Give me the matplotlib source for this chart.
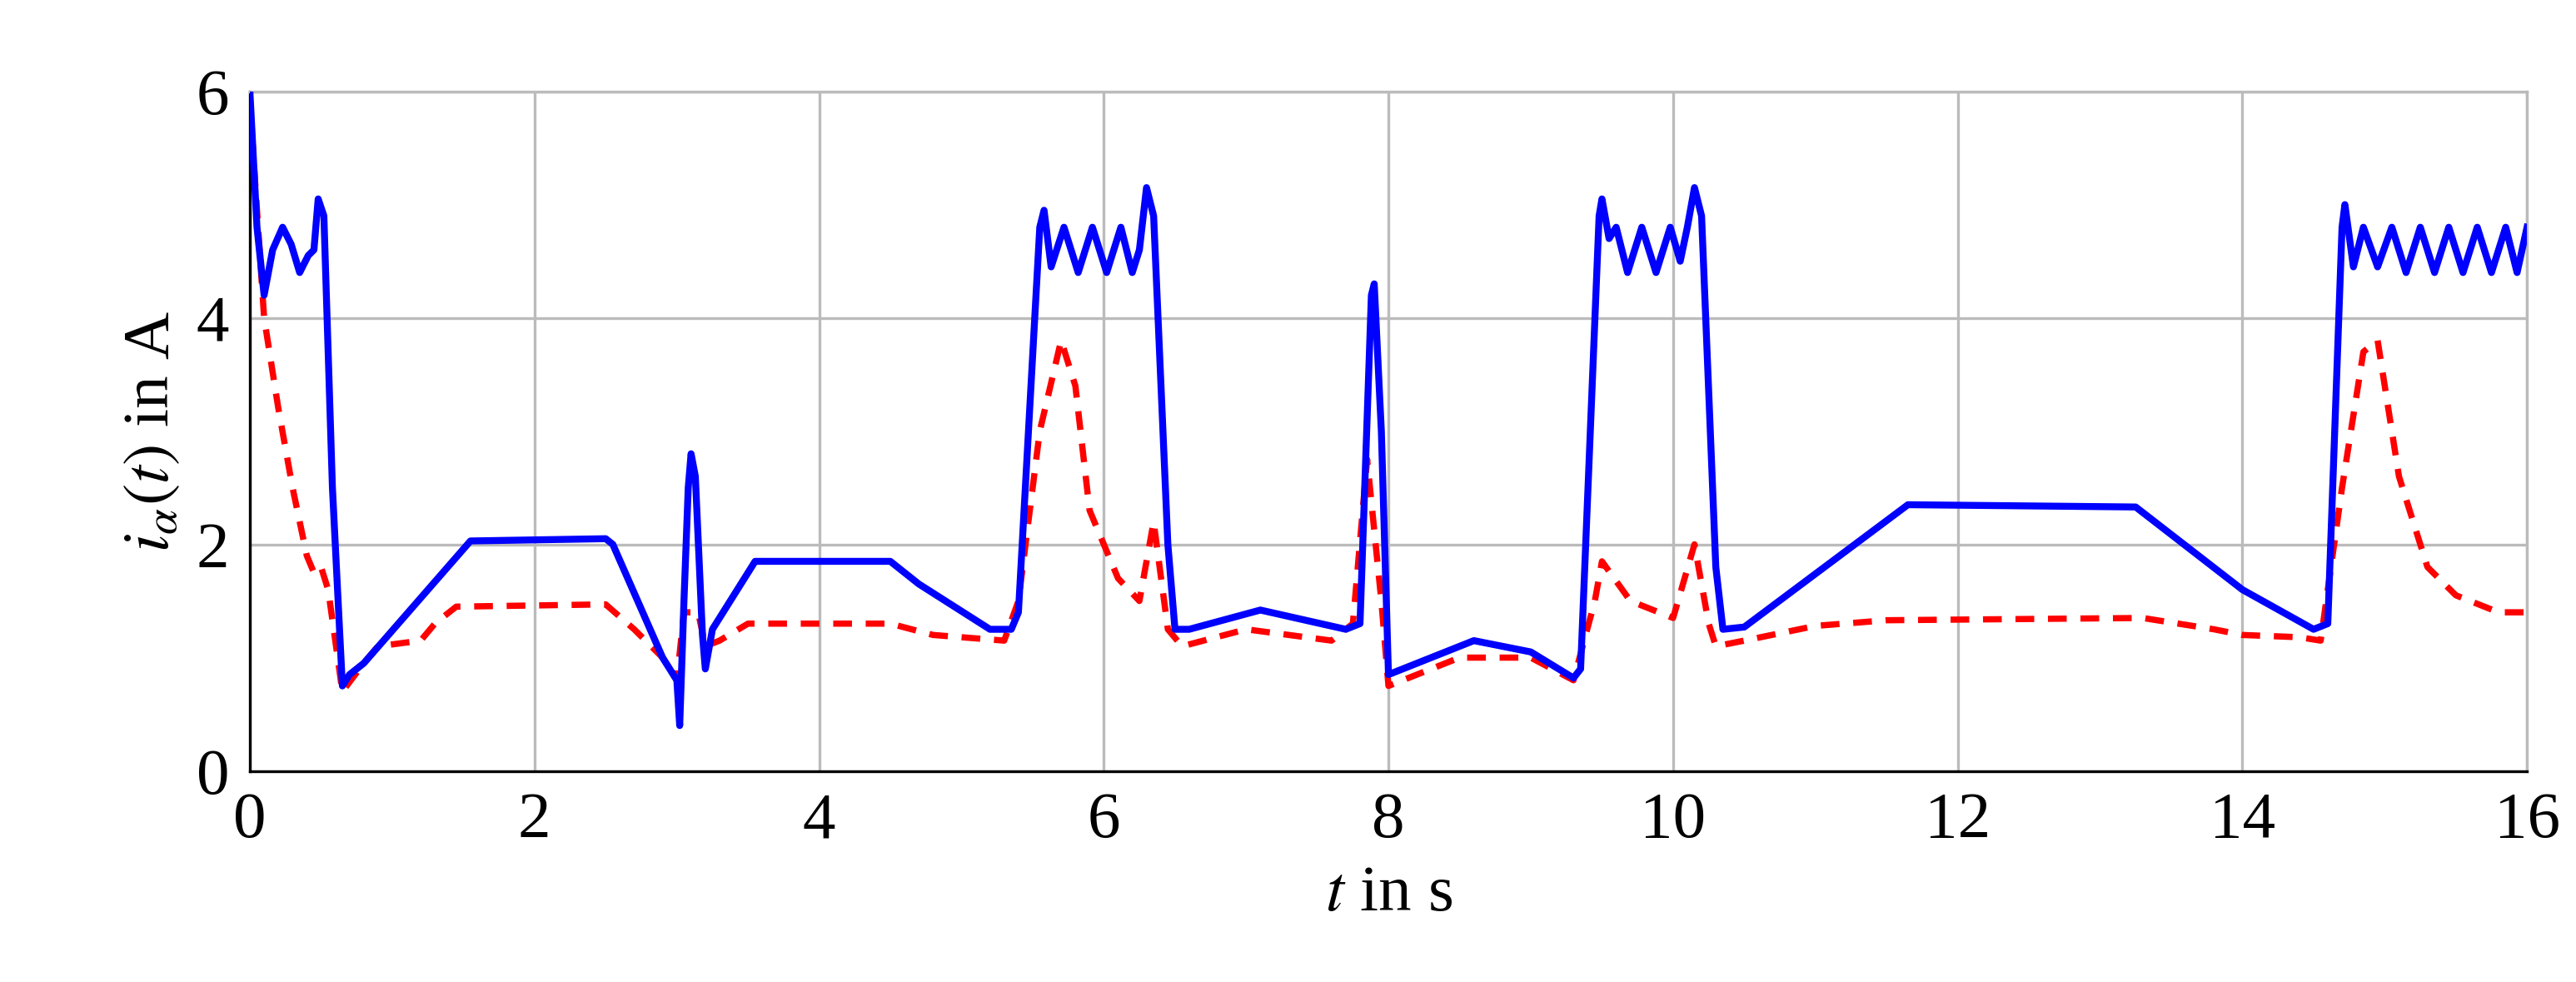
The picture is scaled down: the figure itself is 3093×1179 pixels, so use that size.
import numpy as np
import matplotlib.pyplot as plt

plt.rcParams["font.family"] = ["Liberation Serif", "DejaVu Serif"]
plt.rcParams["mathtext.fontset"] = "stix"

# blue: reference current (t in s, value in A)
blue_t = [0, 0.05, 0.1, 0.16, 0.23, 0.29, 0.35, 0.41, 0.45, 0.48, 0.52, 0.58, 0.65, 0.7, 0.8,
          1.55, 2.5, 2.55, 2.9, 3.0, 3.02, 3.05, 3.08, 3.1, 3.13, 3.18, 3.2, 3.25, 3.55, 4.5,
          4.7, 5.2, 5.35, 5.4, 5.55, 5.58, 5.63, 5.72, 5.82, 5.92, 6.02, 6.12, 6.2, 6.25, 6.3,
          6.35, 6.45, 6.5, 6.6, 7.1, 7.7, 7.8, 7.88, 7.9, 7.95, 8.0, 8.1, 8.6, 9.0, 9.3, 9.35,
          9.48, 9.5, 9.55, 9.6, 9.68, 9.78, 9.88, 9.98, 10.05, 10.1, 10.15, 10.2, 10.3, 10.35,
          10.5, 11.65, 13.25, 14.0, 14.5, 14.6, 14.7, 14.72, 14.78, 14.85, 14.95, 15.05, 15.15,
          15.25, 15.35, 15.45, 15.55, 15.65, 15.75, 15.85, 15.93, 16.0]
blue_v = [6.0, 4.8, 4.2, 4.6, 4.8, 4.65, 4.4, 4.55, 4.6, 5.05, 4.9, 2.5, 0.75, 0.85, 0.95,
          2.03, 2.05, 2.0, 1.0, 0.8, 0.4, 1.5, 2.5, 2.8, 2.6, 1.2, 0.9, 1.25, 1.85, 1.85,
          1.65, 1.25, 1.25, 1.4, 4.8, 4.95, 4.45, 4.8, 4.4, 4.8, 4.4, 4.8, 4.4, 4.6, 5.15,
          4.9, 2.0, 1.25, 1.25, 1.42, 1.25, 1.3, 4.2, 4.3, 3.0, 0.85, 0.9, 1.15, 1.05, 0.82, 0.9,
          4.9, 5.05, 4.7, 4.8, 4.4, 4.8, 4.4, 4.8, 4.5, 4.8, 5.15, 4.9, 1.8, 1.25,
          1.27, 2.35, 2.33, 1.6, 1.25, 1.3, 4.8, 5.0, 4.45, 4.8, 4.45, 4.8, 4.4,
          4.8, 4.4, 4.8, 4.4, 4.8, 4.4, 4.8, 4.4, 4.8]

# red dashed: measured current
red_t = [0, 0.1, 0.2, 0.3, 0.4, 0.45, 0.5, 0.55, 0.65, 0.8, 0.9, 1.2, 1.3, 1.45, 2.5, 2.7,
         2.9, 3.0, 3.05, 3.15, 3.2, 3.3, 3.5, 4.5, 4.8, 5.3, 5.4, 5.55, 5.7, 5.8, 5.9, 6.1,
         6.25, 6.35, 6.45, 6.55, 7.0, 7.6, 7.75, 7.85, 7.95, 8.0, 8.1, 8.5, 9.0, 9.3, 9.45,
         9.5, 9.7, 10.0, 10.15, 10.25, 10.3, 10.5, 11.0, 11.5, 13.3, 13.8, 14.0, 14.4, 14.55,
         14.7, 14.85, 14.95, 15.1, 15.3, 15.5, 15.8, 16.0]
red_v = [5.9, 4.0, 3.2, 2.5, 1.9, 1.75, 1.8, 1.6, 0.7, 0.95, 1.1, 1.15, 1.3, 1.45, 1.47, 1.25,
         1.0, 0.8, 1.4, 1.4, 1.1, 1.15, 1.3, 1.3, 1.2, 1.15, 1.5, 3.0, 3.8, 3.4, 2.3, 1.7,
         1.5, 2.2, 1.25, 1.1, 1.25, 1.15, 1.3, 2.75, 1.5, 0.75, 0.8, 1.0, 1.0, 0.8, 1.5,
         1.85, 1.5, 1.35, 2.0, 1.3, 1.1, 1.15, 1.28, 1.33, 1.35, 1.25, 1.2, 1.18, 1.15,
         2.5, 3.7, 3.8, 2.6, 1.8, 1.55, 1.4, 1.4]

fig = plt.figure(figsize=(10.31, 3.93), dpi=300)
ax = fig.add_axes([0.097, 0.215, 0.884, 0.692])

ax.plot(blue_t, blue_v, color="blue", lw=2.0, zorder=3)
ax.plot(red_t, red_v, color="red", lw=1.8, ls=(0, (3, 2.2)), zorder=2)

ax.set_xlim(0, 16)
ax.set_ylim(0, 6)
ax.set_xticks(range(0, 17, 2))
ax.set_yticks([0, 2, 4, 6])
ax.grid(True, color="#bbbbbb", lw=0.8)
ax.set_axisbelow(True)
ax.tick_params(labelsize=19, length=0, pad=6)
for s in ax.spines.values():
    s.set_color("#bbbbbb")
ax.spines["left"].set_color("black")
ax.spines["bottom"].set_color("black")
ax.set_xlabel(r"$t$ in s", fontsize=19)
ax.set_ylabel(r"$i_\alpha(t)$ in A", fontsize=19)

fig.savefig("out.png", dpi=300)
